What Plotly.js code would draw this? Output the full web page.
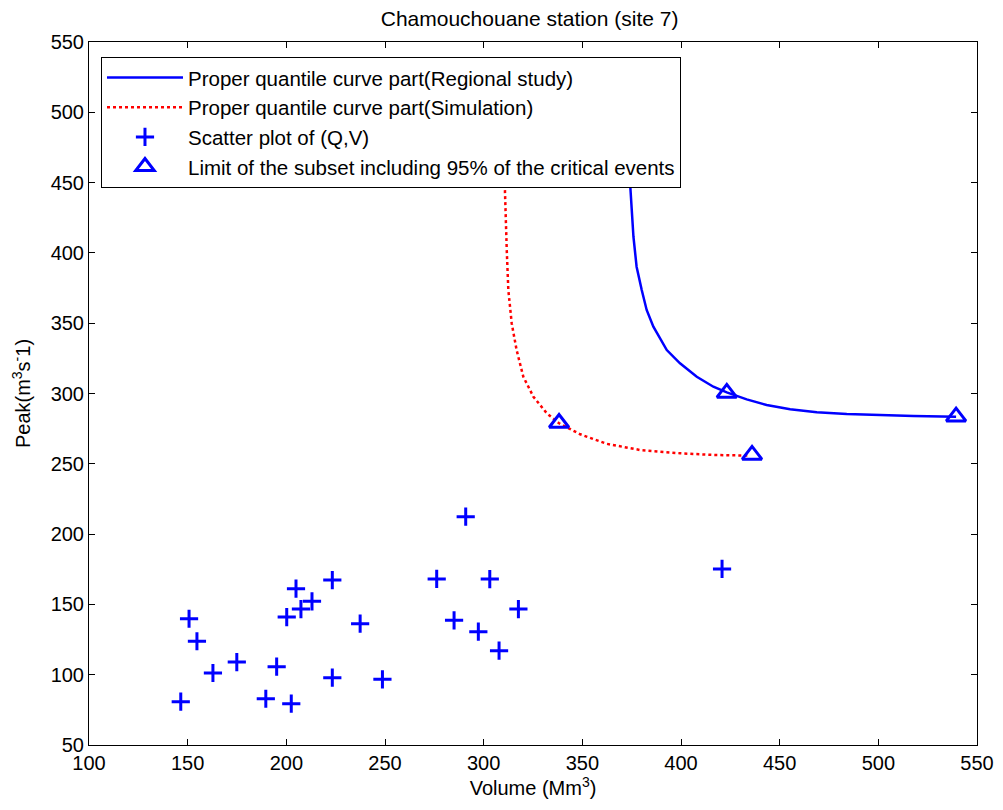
<!DOCTYPE html>
<html>
<head>
<meta charset="utf-8">
<script src="https://cdn.plot.ly/plotly-3.0.1.min.js"></script>
<style>body{margin:0;background:#fff;}#chart{width:1003px;height:810px;}</style>
</head>
<body>
<div id="chart"></div>
<script>
// Regional study quantile curve (blue solid)
const regionalVolume = [372.5, 373.5, 374.2, 375.9, 377.5, 380.1, 382.6, 386.0, 392.8, 399.5, 408.0, 416.4, 423.2, 433.3, 443.4, 455.3, 468.8, 484.0, 500.9, 517.8, 539.4];
const regionalPeak   = [530, 480, 449.5, 411.5, 390.2, 373.6, 359.4, 347.5, 330.9, 321.5, 311.9, 304.8, 300.8, 295.8, 291.8, 288.8, 286.6, 285.4, 284.5, 284.0, 283.5];
// Simulation quantile curve (red dotted)
const simVolume = [310.0, 310.5, 310.8, 311.7, 312.5, 314.2, 316.7, 320.1, 325.2, 332.0, 338.2, 348.9, 362.4, 379.3, 399.5, 416.4, 435.1];
const simPeak   = [530, 480, 443.5, 402.1, 373.6, 350.0, 330.9, 311.9, 297.7, 285.9, 278.8, 271.0, 264.2, 259.8, 257.5, 256.3, 255.8];
// Observed (Q,V) events
const eventVolume = [290.9, 276.2, 303.1, 317.6, 285.0, 297.3, 307.8, 223.3, 204.9, 213.0, 207.4, 200.2, 237.4, 150.7, 154.7, 174.9, 162.8, 195.1, 223.3, 248.7, 146.5, 189.6, 202.5, 420.8];
const eventPeak   = [212.4, 168.1, 168.0, 146.7, 138.7, 130.6, 117.1, 167.3, 161.2, 152.2, 146.7, 141.0, 136.3, 139.8, 123.8, 109.0, 101.2, 105.7, 97.9, 96.7, 80.8, 82.9, 79.4, 175.2];
// Limits of the 95% subset
const limitVolume = [338.2, 436.0, 423.2, 539.4];
const limitPeak   = [279.0, 256.3, 300.4, 283.5];
const xTicks = [100, 150, 200, 250, 300, 350, 400, 450, 500, 550];
const yTicks = [50, 100, 150, 200, 250, 300, 350, 400, 450, 500, 550];

const blue = '#0000ff', red = '#ff0000';
const FONT = 'Liberation Sans, Arial, sans-serif';
const traces = [
  {x: regionalVolume, y: regionalPeak, mode: 'lines', name: 'Proper quantile curve part(Regional study)',
   line: {color: blue, width: 2.5}},
  {x: simVolume, y: simPeak, mode: 'lines', name: 'Proper quantile curve part(Simulation)',
   line: {color: red, width: 2.5, dash: 'dot'}},
  {x: eventVolume, y: eventPeak, mode: 'markers', name: 'Scatter plot of (Q,V)',
   marker: {symbol: 'cross-thin', size: 13, color: blue, line: {color: blue, width: 3}}},
  {x: limitVolume, y: limitPeak, mode: 'markers', name: 'Limit of the subset including 95% of the critical events',
   marker: {symbol: 'triangle-up-open', size: 17, color: blue, line: {color: blue, width: 3}}}
];

const axisCommon = {
  showgrid: false, zeroline: false, showline: true, linecolor: '#000', linewidth: 1,
  mirror: 'allticks', ticks: 'inside', ticklen: 6, tickcolor: '#000',
  tickfont: {family: FONT, size: 20, color: '#000'}
};

const layout = {
  width: 1003, height: 810,
  margin: {l: 89, r: 26, t: 42, b: 65},
  paper_bgcolor: '#fff', plot_bgcolor: '#fff',
  font: {family: FONT, color: '#000', size: 20},
  title: {text: 'Chamouchouane station (site 7)', font: {family: FONT, size: 21, color: '#000'}, x: 0.528, xanchor: 'center', y: 0.977, yanchor: 'middle'},
  xaxis: Object.assign({}, axisCommon, {
    range: [100, 550], tickvals: xTicks, ticktext: xTicks.map(String),
    title: {text: 'Volume (Mm<sup>3</sup>)', font: {family: FONT, size: 20, color: '#000'}, standoff: 3}
  }),
  yaxis: Object.assign({}, axisCommon, {
    range: [50, 550], tickvals: yTicks, ticktext: yTicks.map(String),
    title: {text: 'Peak(m<sup>3</sup>s<sup>-</sup>1)', font: {family: FONT, size: 20, color: '#000'}, standoff: 14}
  }),
  legend: {
    x: 0.0135, y: 0.979, xanchor: 'left', yanchor: 'top',
    bgcolor: '#fff', bordercolor: '#000', borderwidth: 1,
    font: {family: FONT, size: 20.5, color: '#000'}, itemwidth: 76, tracegroupgap: 0
  },
  showlegend: true
};

Plotly.newPlot('chart', traces, layout, {displayModeBar: false, staticPlot: true});
</script>
</body>
</html>
